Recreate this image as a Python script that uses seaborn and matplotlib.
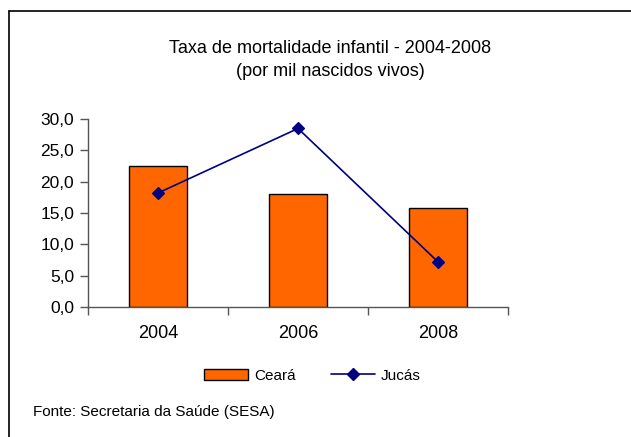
import matplotlib
matplotlib.use("Agg")
from matplotlib import pyplot as plt
from matplotlib.patches import Patch
from matplotlib.lines import Line2D
from matplotlib.ticker import FuncFormatter, FixedLocator
import seaborn as sns


years = ["2004", "2006", "2008"]
ceara = [22.5, 18.0, 15.8]
jucas = [18.2, 28.5, 7.2]
y_ticks = [0, 5, 10, 15, 20, 25, 30]

TITLE = "Taxa de mortalidade infantil - 2004-2008\n(por mil nascidos vivos)"
SOURCE = "Fonte: Secretaria da Saúde (SESA)"

ORANGE = "#FF6600"
NAVY = "#000080"


def main():
    sns.set_theme(style="white")
    plt.rcParams["font.family"] = ["Liberation Sans", "DejaVu Sans"]
    plt.rcParams["text.color"] = "black"
    plt.rcParams["xtick.labelcolor"] = "black"
    plt.rcParams["ytick.labelcolor"] = "black"

    fig = plt.figure(figsize=(6.31, 4.37), dpi=100)
    ax = fig.add_axes([0.1395, 0.2975, 0.6656, 0.430])

    sns.barplot(x=years, y=ceara, color=ORANGE, width=0.41, edgecolor="black",
                linewidth=1.0, saturation=1, ax=ax)
    sns.pointplot(x=years, y=jucas, color=NAVY, markers="D", markersize=6,
                  linewidth=1.2, errorbar=None, ax=ax)

    ax.set_xlim(-0.5, 2.5)
    ax.set_ylim(0, 30)
    ax.set_yticks(y_ticks)
    ax.yaxis.set_major_formatter(FuncFormatter(lambda v, p: f"{v:.1f}".replace(".", ",")))
    ax.xaxis.set_minor_locator(FixedLocator([-0.5, 0.5, 1.5, 2.5]))
    ax.tick_params(axis="x", which="major", length=0, labelsize=13, pad=13, labelcolor="black")
    ax.tick_params(axis="x", which="minor", bottom=True, length=6, width=1, color="#555555")
    ax.tick_params(axis="y", left=True, length=6, width=1, color="#555555", labelsize=12.5,
                   pad=4, labelcolor="black")

    for side in ["top", "right"]:
        ax.spines[side].set_visible(False)
    for side in ["left", "bottom"]:
        ax.spines[side].set_color("#555555")
        ax.spines[side].set_linewidth(1.0)
    ax.set_xlabel("")
    ax.set_ylabel("")

    fig.text(0.523, 0.863, TITLE, ha="center", va="center", fontsize=13, linespacing=1.45,
             color="black")

    handles = [
        Patch(facecolor=ORANGE, edgecolor="black", linewidth=1.0),
        Line2D([0], [0], color=NAVY, marker="D", markersize=6, linewidth=1.2),
    ]
    fig.legend(handles, ["Ceará", "Jucás"], loc="center", bbox_to_anchor=(0.495, 0.14),
               ncol=2, frameon=False, fontsize=11, handlelength=2.9, handleheight=0.7,
               columnspacing=2.3, handletextpad=0.4, labelcolor="black")

    fig.text(0.052, 0.057, SOURCE, ha="left", va="center", fontsize=11, color="black")

    # outer frame (left and top edges visible in the original)
    fig.add_artist(Line2D([0.0148, 0.0148], [0.0, 0.9737], color="black", linewidth=1.2,
                          transform=fig.transFigure))
    fig.add_artist(Line2D([0.0148, 1.0], [0.9737, 0.9737], color="black", linewidth=1.2,
                          transform=fig.transFigure))

    plt.savefig("out.png", dpi=100)


if __name__ == "__main__":
    main()
